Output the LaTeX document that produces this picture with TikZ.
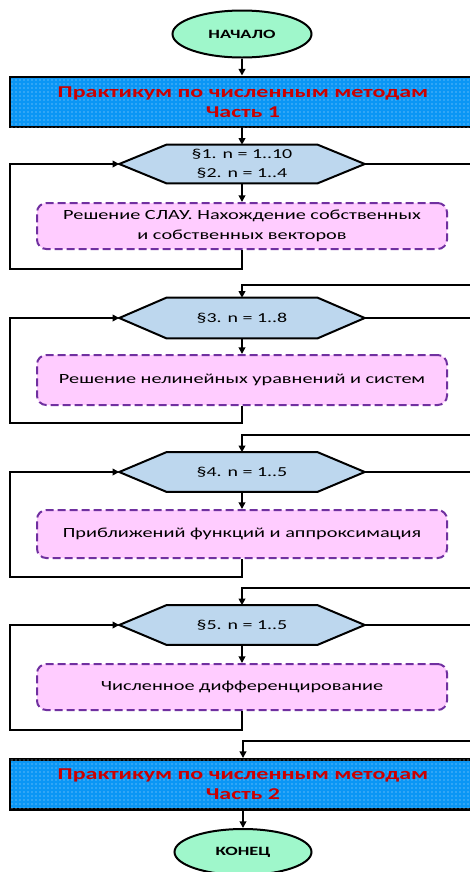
\documentclass[tikz,border=0pt]{standalone}
\usepackage{fontspec}
\setmainfont[FakeStretch=1.45]{Carlito}
\usetikzlibrary{shapes.geometric,arrows.meta,patterns,calc}
\pgfdeclarelayer{bg}
\pgfsetlayers{bg,main}
\newcommand{\pxu}{0.75pt}
\definecolor{mint}{HTML}{9FF7CB}
\definecolor{barblue}{HTML}{0A96F5}
\definecolor{hexblue}{HTML}{BDD7EE}
\definecolor{pinkf}{HTML}{FFCCFF}
\definecolor{purp}{HTML}{7030A0}
\definecolor{redtxt}{HTML}{CC0000}
\tikzset{
  term/.style={ellipse, draw=black, line width=1.5pt, fill=mint, inner sep=0pt,
    minimum width=139*\pxu, minimum height=47*\pxu, font=\fontsize{9.5pt}{11pt}\selectfont\bfseries},
  bar/.style={rectangle, draw=black, line width=2.2pt, fill=barblue,
    postaction={pattern=dots, pattern color=white!70!barblue},
    minimum width=466*\pxu, minimum height=50*\pxu, align=center, text=redtxt,
    font=\fontsize{12.4pt}{15pt}\selectfont\bfseries},
  hexn/.style={rectangle, inner sep=0pt, minimum width=245*\pxu, align=center,
    font=\fontsize{10.3pt}{14.25pt}\selectfont},
  hexf/.style={fill=hexblue, draw=black, line width=1.5pt, line join=miter},
  proc/.style={rectangle, rounded corners=7pt, draw=purp, fill=pinkf, line width=1.5pt,
    dash pattern=on 6pt off 3pt, minimum width=410*\pxu, align=center,
    font=\fontsize{10.5pt}{15pt}\selectfont},
  conn/.style={draw=black, line width=1.5pt, -{Triangle[length=5pt,width=5pt]}},
  line/.style={draw=black, line width=1.5pt}
}
\newcommand{\hexdraw}[1]{%
  \begin{pgfonlayer}{bg}
  \path[hexf] (#1.west) -- ($(#1.north west)+(47,0)$) -- ($(#1.north east)+(-47,0)$)
    -- (#1.east) -- ($(#1.south east)+(-47,0)$) -- ($(#1.south west)+(47,0)$) -- cycle;
  \end{pgfonlayer}}
\begin{document}
\begin{tikzpicture}[x=0.75pt,y=-0.75pt]
\useasboundingbox (0,0) rectangle (470,872);
\begin{pgfonlayer}{bg}
\fill[white] (0,0) rectangle (470,872);
\end{pgfonlayer}

\node[term] (start) at (242,34) {НАЧАЛО};
\node[bar] (bar1) at (243,102) {Практикум по численным методам\\Часть 1};

\node[hexn, minimum height=38*\pxu] (h1) at (242,164) {§1. n = 1..10\\§2. n = 1..4};
\hexdraw{h1}
\node[proc, minimum height=46*\pxu] (p1) at (242,226) {Решение СЛАУ. Нахождение собственных\\и собственных векторов};

\node[hexn, minimum height=40*\pxu] (h2) at (242,318) {§3. n = 1..8};
\hexdraw{h2}
\node[proc, minimum height=50*\pxu] (p2) at (242,380) {Решение нелинейных уравнений и систем};

\node[hexn, minimum height=39*\pxu] (h3) at (242,472) {§4. n = 1..5};
\hexdraw{h3}
\node[proc, minimum height=48*\pxu] (p3) at (242,534) {Приближений функций и аппроксимация};

\node[hexn, minimum height=39*\pxu] (h4) at (242,625) {§5. n = 1..5};
\hexdraw{h4}
\node[proc, minimum height=46*\pxu] (p4) at (242,687) {Численное дифференцирование};

\node[bar] (bar2) at (243,784.5) {Практикум по численным методам\\Часть 2};
\node[term, minimum width=137*\pxu, minimum height=46*\pxu] (end) at (243,852) {КОНЕЦ};

% main flow
\draw[conn] (start) -- (start.south |- bar1.north);
\draw[conn] (bar1.south -| h1.north) -- (h1.north);
\draw[conn] (h1) -- (p1);
\draw[conn] (h2) -- (p2);
\draw[conn] (h3) -- (p3);
\draw[conn] (h4) -- (p4);
\draw[conn] (bar2.south -| end.north) -- (end);

% loops back
\coordinate (l1) at (10,269);
\coordinate (l2) at (10,423);
\coordinate (l3) at (10,577);
\coordinate (l4) at (10,730);
\draw[conn] (p1.south) |- (l1) |- (h1.west);
\draw[conn] (p2.south) |- (l2) |- (h2.west);
\draw[conn] (p3.south) |- (l3) |- (h3.west);
\draw[conn] (p4.south) |- (l4) |- (h4.west);

% exits to the right
\coordinate (r1) at (480,285);
\coordinate (r2) at (480,435);
\coordinate (r3) at (480,588);
\coordinate (r4) at (480,741);
\draw[conn] (h1.east) -| (r1) -| (h2.north);
\draw[conn] (h2.east) -| (r2) -| (h3.north);
\draw[conn] (h3.east) -| (r3) -| (h4.north);
\draw[conn] (h4.east) -| (r4) -| (bar2.north -| end.north);
\end{tikzpicture}
\end{document}
